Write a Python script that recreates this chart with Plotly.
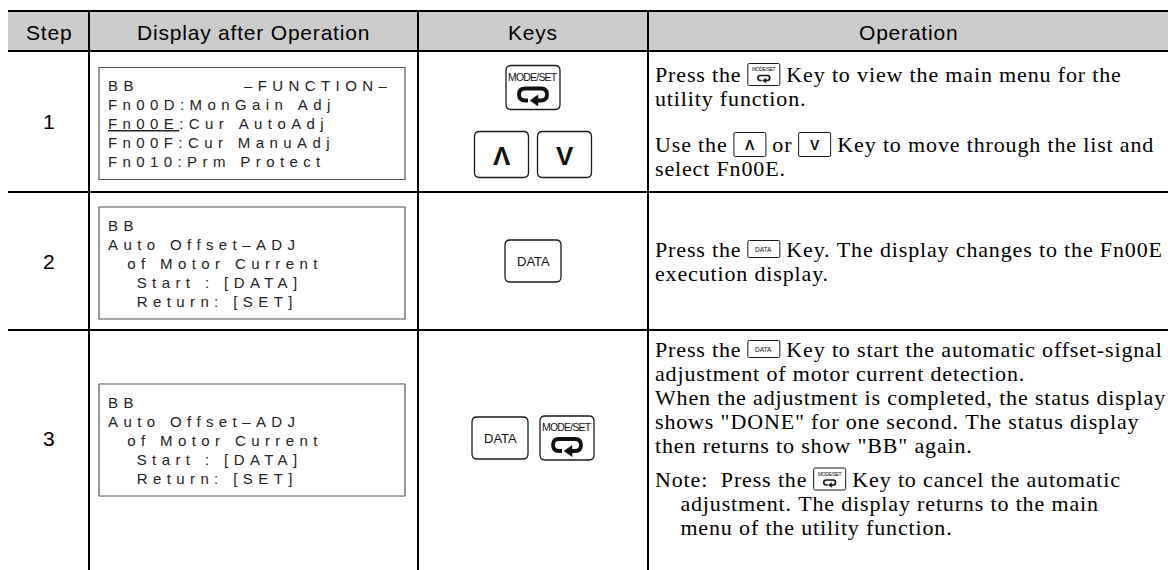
import re
import plotly.graph_objects as go

W, H = 1168, 570
NB = "\u00a0"

# ---------------- data ----------------
headers = ["Step", "Display after Operation", "Keys", "Operation"]
steps = ["1", "2", "3"]

display_row1 = ["BB           –FUNCTION–",
                "Fn00D:MonGain Adj",
                "<u>Fn00E</u>:Cur AutoAdj",
                "Fn00F:Cur ManuAdj",
                "Fn010:Prm Protect"]
display_row2 = ["BB",
                "Auto Offset–ADJ",
                "  of Motor Current",
                "   Start : [DATA]",
                "   Return: [SET]"]
display_row3 = ["BB",
                "Auto Offset–ADJ",
                "  of Motor Current",
                "   Start : [DATA]",
                "   Return: [SET]"]

keys_row1 = [["MODE/SET"], ["UP", "DOWN"]]
keys_row2 = [["DATA"]]
keys_row3 = [["DATA", "MODE/SET"]]

op_row1 = [["Press the {MODE/SET} Key to view the main menu for the",
            "utility function."],
           ["Use the {UP} or {DOWN} Key to move through the list and",
            "select Fn00E."]]
op_row2 = [["Press the {DATA} Key. The display changes to the Fn00E",
            "execution display."]]
op_row3 = [["Press the {DATA} Key to start the automatic offset-signal",
            "adjustment of motor current detection.",
            "When the adjustment is completed, the status display",
            'shows "DONE" for one second. The status display',
            'then returns to show "BB" again.'],
           ["Note:  Press the {MODE/SET} Key to cancel the automatic",
            "    adjustment. The display returns to the main",
            "    menu of the utility function."]]

display_rows = [display_row1, display_row2, display_row3]
key_rows = [keys_row1, keys_row2, keys_row3]
op_rows = [op_row1, op_row2, op_row3]

# ---------------- layout constants ----------------
COL_X = [8, 89, 418, 648, 1168]
ROW_Y = [11, 51, 192, 330, 570]
ROW_CENTER = [121.5, 261, 438]
SANS = "Liberation Sans, Arial, sans-serif"
SERIF = "Liberation Serif, Times New Roman, serif"

OP_SIZE, OP_LS = 22, 0.85
OP_X = 655
OP_PITCH = 24
OP_PGAP = [46, 46, 34]

LCD_X0, LCD_X1, LCD_H = 99, 405, 112
LCD_TX, LCD_PITCH, LCD_SIZE, LCD_LS = 108, 19, 15, 5.4

TIMES = {" ": 250, NB: 250, "!": 333, '"': 408, "'": 180, ",": 250, "-": 333,
         ".": 250, ":": 278, ";": 278, "(": 333, ")": 333, "[": 333, "]": 333}
for c in "0123456789":
    TIMES[c] = 500
TIMES.update(dict(zip("ABCDEFGHIJKLMNOPQRSTUVWXYZ",
                      [722, 667, 667, 722, 611, 556, 722, 722, 333, 389, 722, 611, 889,
                       722, 722, 556, 722, 667, 556, 611, 722, 722, 944, 722, 722, 611])))
TIMES.update(dict(zip("abcdefghijklmnopqrstuvwxyz",
                      [444, 500, 444, 500, 444, 333, 500, 500, 278, 278, 500, 278, 778,
                       500, 500, 500, 500, 333, 389, 278, 500, 500, 722, 500, 500, 444])))

INLINE = {"MODE/SET": (32, 22), "DATA": (32, 17), "UP": (32, 24), "DOWN": (32, 24)}
KEY = {"MODE/SET": (54, 44), "DATA": (56, 42), "UP": (54, 46), "DOWN": (54, 46)}

shapes, anns = [], []


def nbsp(s):
    return s.replace(" ", NB)


def add_text(x, y, text, size, family, color="#000", xanchor="center", ls=None):
    t = text
    if ls is not None:
        t = f"<span style='letter-spacing:{ls}px'>{t}</span>"
    anns.append(dict(x=x, y=y, xref="x", yref="y", text=t, showarrow=False,
                     xanchor=xanchor, yanchor="middle", borderpad=0, borderwidth=0,
                     font=dict(size=size, family=family, color=color)))


def line(x0, y0, x1, y1, w=2, color="#000"):
    shapes.append(dict(type="line", x0=x0, y0=y0, x1=x1, y1=y1, xref="x", yref="y",
                       line=dict(color=color, width=w)))


def rrect(x0, y0, x1, y1, r, color="#1a1a1a", w=1.3):
    p = (f"M{x0+r},{y0} L{x1-r},{y0} Q{x1},{y0} {x1},{y0+r} L{x1},{y1-r} "
         f"Q{x1},{y1} {x1-r},{y1} L{x0+r},{y1} Q{x0},{y1} {x0},{y1-r} "
         f"L{x0},{y0+r} Q{x0},{y0} {x0+r},{y0} Z")
    shapes.append(dict(type="path", path=p, xref="x", yref="y",
                       line=dict(color=color, width=w), fillcolor="rgba(255,255,255,0)"))


def return_arrow(cx, cy, s, color="#111"):
    lw, lh = 28 * s, 12 * s
    x0, x1 = cx - lw / 2, cx + lw / 2
    yt, yb = cy - lh / 2, cy + lh / 2
    r = lh / 2
    p = (f"M{cx-5*s},{yb} L{x0+r},{yb} Q{x0},{yb} {x0},{cy} Q{x0},{yt} {x0+r},{yt} "
         f"L{x1-r},{yt} Q{x1},{yt} {x1},{cy} Q{x1},{yb} {x1-r},{yb} L{cx+4*s},{yb}")
    shapes.append(dict(type="path", path=p, xref="x", yref="y",
                       line=dict(color=color, width=max(1.2, 3.8 * s)),
                       fillcolor="rgba(0,0,0,0)"))
    tri = (f"M{cx-3*s},{yb} L{cx+5*s},{yb-5.5*s} L{cx+5*s},{yb+5.5*s} Z")
    shapes.append(dict(type="path", path=tri, xref="x", yref="y",
                       line=dict(color=color, width=0.5), fillcolor=color))


def draw_key(name, cx, cy, size_map, big=True):
    w, h = size_map[name]
    x0, x1, y0, y1 = cx - w / 2, cx + w / 2, cy - h / 2, cy + h / 2
    rrect(x0, y0, x1, y1, 5 if big else 1.5, w=1.3 if big else 1)
    if name == "MODE/SET":
        add_text(cx, y0 + (11 if big else 5.5), "MODE/SET", 10.5 if big else 5, SANS,
                 color="#111", ls=-0.8 if big else -0.35)
        return_arrow(cx, cy + (7 if big else 3.5), 1.0 if big else 0.42)
    elif name == "DATA":
        add_text(cx, cy, "DATA", 13 if big else 6.5, SANS, color="#111")
    elif name in ("UP", "DOWN"):
        glyph = "<b>Λ</b>" if name == "UP" else "<b>V</b>"
        add_text(cx, cy + (1 if big else 0), glyph, 26 if big else 14, SANS, color="#111")


def times_width(s):
    s = re.sub(r"<[^>]+>", "", s)
    return sum(TIMES.get(c, 500) for c in s) * OP_SIZE / 1000 + len(s) * OP_LS


# ---------------- table frame ----------------
shapes.append(dict(type="rect", x0=COL_X[0], x1=COL_X[-1], y0=ROW_Y[0], y1=ROW_Y[1],
                   xref="x", yref="y", line=dict(width=0), fillcolor="#cccccc"))
for y in ROW_Y[:-1]:
    line(COL_X[0], y, COL_X[-1], y)
for x in COL_X[1:-1]:
    line(x, ROW_Y[0], x, ROW_Y[-1])

for i, htxt in enumerate(headers):
    add_text((COL_X[i] + COL_X[i + 1]) / 2, (ROW_Y[0] + ROW_Y[1]) / 2 + 1, htxt, 21, SANS, ls=0.8)

for r in range(3):
    rc = ROW_CENTER[r]
    # step number
    add_text((COL_X[0] + COL_X[1]) / 2, rc, steps[r], 21, SANS)

    # LCD display
    lines_ = display_rows[r]
    bc = rc + 2
    shapes.append(dict(type="rect", x0=LCD_X0, x1=LCD_X1, y0=bc - LCD_H / 2, y1=bc + LCD_H / 2,
                       xref="x", yref="y", line=dict(color="#555", width=1.2),
                       fillcolor="rgba(0,0,0,0)"))
    n = len(lines_)
    for k, t in enumerate(lines_):
        y = bc + (k - (n - 1) / 2) * LCD_PITCH
        add_text(LCD_TX, y, nbsp(t), LCD_SIZE, SANS, color="#222",
                 xanchor="left", ls=LCD_LS)

    # keys
    kc = (COL_X[2] + COL_X[3]) / 2
    groups = key_rows[r]
    vgap = 22
    gh = [max(KEY[k][1] for k in g) for g in groups]
    total = sum(gh) + vgap * (len(groups) - 1)
    ytop = rc - total / 2
    for g, hgt in zip(groups, gh):
        hgap = 9 if "UP" in g else 12
        widths = [KEY[k][0] for k in g]
        gw = sum(widths) + hgap * (len(g) - 1)
        x = kc - gw / 2
        for k, wk in zip(g, widths):
            draw_key(k, x + wk / 2, ytop + hgt / 2, KEY, big=True)
            x += wk + hgap
        ytop += hgt + vgap

    # operation text
    paras = op_rows[r]
    nlines = sum(len(p) for p in paras)
    gap = OP_PGAP[r]
    block = (nlines - len(paras)) * OP_PITCH + (len(paras) - 1) * gap
    y = rc - block / 2
    for pi, para in enumerate(paras):
        for li, txt in enumerate(para):
            x = OP_X
            for part in re.split(r"(\{[A-Z/]+\})", txt):
                if not part:
                    continue
                if part.startswith("{"):
                    name = part[1:-1]
                    iw = INLINE[name][0]
                    draw_key(name, x + iw / 2, y, INLINE, big=False)
                    x += iw
                else:
                    add_text(x, y, nbsp(part), OP_SIZE, SERIF, xanchor="left", ls=OP_LS)
                    x += times_width(part)
            if li < len(para) - 1:
                y += OP_PITCH
        y += gap

fig = go.Figure()
fig.update_layout(
    width=W, height=H, margin=dict(l=0, r=0, t=0, b=0),
    paper_bgcolor="white", plot_bgcolor="white",
    xaxis=dict(range=[0, W], visible=False, fixedrange=True),
    yaxis=dict(range=[H, 0], visible=False, fixedrange=True),
    shapes=shapes, annotations=anns, showlegend=False,
)
fig.write_html("out.html", config={"displayModeBar": False},
               post_script="document.body.style.margin='0px';document.body.style.overflow='hidden';")
